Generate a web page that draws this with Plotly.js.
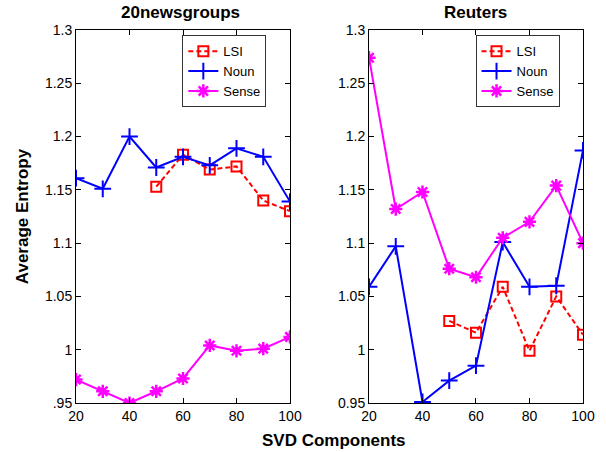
<!DOCTYPE html>
<html>
<head>
<meta charset="utf-8">
<script src="https://cdn.plot.ly/plotly-3.0.1.min.js"></script>
<style>html,body{margin:0;padding:0;background:#fff;}#chart{width:606px;height:452px;}</style>
</head>
<body>
<div id="chart"></div>
<script>
// ---- data ----
const svdComponents = [20, 30, 40, 50, 60, 70, 80, 90, 100];
const lsiComponents = [50, 60, 70, 80, 90, 100];

const newsLSI   = [1.153, 1.183, 1.169, 1.172, 1.140, 1.130];
const newsNoun  = [1.161, 1.151, 1.200, 1.171, 1.181, 1.173, 1.189, 1.181, 1.139];
const newsSense = [0.972, 0.961, 0.950, 0.961, 0.973, 1.004, 0.999, 1.001, 1.012];

const reutLSI   = [1.027, 1.016, 1.059, 0.999, 1.050, 1.014];
const reutNoun  = [1.059, 1.097, 0.951, 0.971, 0.985, 1.101, 1.059, 1.060, 1.187];
const reutSense = [1.274, 1.132, 1.148, 1.076, 1.068, 1.105, 1.120, 1.154, 1.100];

const panelTitles = ['20newsgroups', 'Reuters'];
const seriesNames = ['LSI', 'Noun', 'Sense'];
const xTickVals = [20, 40, 60, 80, 100];
const yTickVals = [0.95, 1.0, 1.05, 1.1, 1.15, 1.2, 1.25, 1.3];
const yTickTextLeft  = ['.95', '1', '1.05', '1.1', '1.15', '1.2', '1.25', '1.3'];
const yTickTextRight = ['0.95', '1', '1.05', '1.1', '1.15', '1.2', '1.25', '1.3'];

// ---- styles ----
const FONT = 'Liberation Sans, Arial, sans-serif';
const RED = '#ff0000', BLUE = '#0000ff', MAG = '#ff00ff';

function lsiTrace(y, xa, ya, lg) {
  return {x: lsiComponents, y: y, xaxis: xa, yaxis: ya, legend: lg, name: seriesNames[0],
    mode: 'lines+markers', type: 'scatter',
    line: {color: RED, width: 2, dash: '5px,3px'},
    marker: {symbol: 'square-open', size: 10, color: RED, line: {color: RED, width: 2}}};
}
function nounTrace(y, xa, ya, lg) {
  return {x: svdComponents, y: y, xaxis: xa, yaxis: ya, legend: lg, name: seriesNames[1],
    mode: 'lines+markers', type: 'scatter',
    line: {color: BLUE, width: 2},
    marker: {symbol: 'cross-thin-open', size: 12, color: BLUE, line: {color: BLUE, width: 2}}};
}
function senseTrace(y, xa, ya, lg) {
  return {x: svdComponents, y: y, xaxis: xa, yaxis: ya, legend: lg, name: seriesNames[2],
    mode: 'lines+markers', type: 'scatter',
    line: {color: MAG, width: 2},
    marker: {symbol: 'asterisk-open', size: 11, color: MAG, line: {color: MAG, width: 2.5}}};
}

const traces = [
  lsiTrace(newsLSI, 'x', 'y', 'legend'),
  nounTrace(newsNoun, 'x', 'y', 'legend'),
  senseTrace(newsSense, 'x', 'y', 'legend'),
  lsiTrace(reutLSI, 'x2', 'y2', 'legend2'),
  nounTrace(reutNoun, 'x2', 'y2', 'legend2'),
  senseTrace(reutSense, 'x2', 'y2', 'legend2')
];

const tickFont = {family: FONT, size: 14, color: '#000'};
function xAxis(domain, anchor) {
  return {domain: domain, anchor: anchor, range: [20, 100], tickvals: xTickVals,
    ticks: 'inside', ticklen: 5, tickcolor: '#000', showline: true, linecolor: '#000', linewidth: 1,
    mirror: 'ticks', showgrid: false, zeroline: false, tickfont: tickFont, fixedrange: true};
}
function yAxis(anchor, text) {
  return {anchor: anchor, range: [0.95, 1.3], tickvals: yTickVals, ticktext: text,
    ticks: 'inside', ticklen: 5, tickcolor: '#000', showline: true, linecolor: '#000', linewidth: 1,
    mirror: 'ticks', showgrid: false, zeroline: false, tickfont: tickFont, fixedrange: true};
}

const legendStyle = (x) => ({x: x, y: 0.986, xanchor: 'left', yanchor: 'top',
  bgcolor: '#fff', bordercolor: '#333', borderwidth: 1,
  font: {family: FONT, size: 13, color: '#000'}, itemwidth: 30, tracegroupgap: 0});

const y1 = yAxis('x', yTickTextLeft);
y1.title = {text: '<b>Average Entropy</b>', font: {family: FONT, size: 17, color: '#000'}, standoff: 12};

const layout = {
  width: 606, height: 452,
  margin: {l: 76, r: 23, t: 30, b: 49},
  paper_bgcolor: '#fff', plot_bgcolor: '#fff',
  showlegend: true,
  xaxis: xAxis([0, 0.4221], 'y'),
  yaxis: y1,
  xaxis2: xAxis([0.5779, 1], 'y2'),
  yaxis2: yAxis('x2', yTickTextRight),
  legend: legendStyle(0.2097),
  legend2: legendStyle(0.788),
  annotations: [
    {text: '<b>' + panelTitles[0] + '</b>', xref: 'paper', yref: 'paper', x: 0.2052, y: 1.0, yshift: 18,
      xanchor: 'center', yanchor: 'middle', showarrow: false, font: {family: FONT, size: 17, color: '#000'}},
    {text: '<b>' + panelTitles[1] + '</b>', xref: 'paper', yref: 'paper', x: 0.788, y: 1.0, yshift: 18,
      xanchor: 'center', yanchor: 'middle', showarrow: false, font: {family: FONT, size: 17, color: '#000'}},
    {text: '<b>SVD Components</b>', xref: 'paper', yref: 'paper', x: 0.509, y: 0, yshift: -37,
      xanchor: 'center', yanchor: 'middle', showarrow: false, font: {family: FONT, size: 17, color: '#000'}}
  ]
};

Plotly.newPlot('chart', traces, layout, {displayModeBar: false, staticPlot: true});
</script>
</body>
</html>
